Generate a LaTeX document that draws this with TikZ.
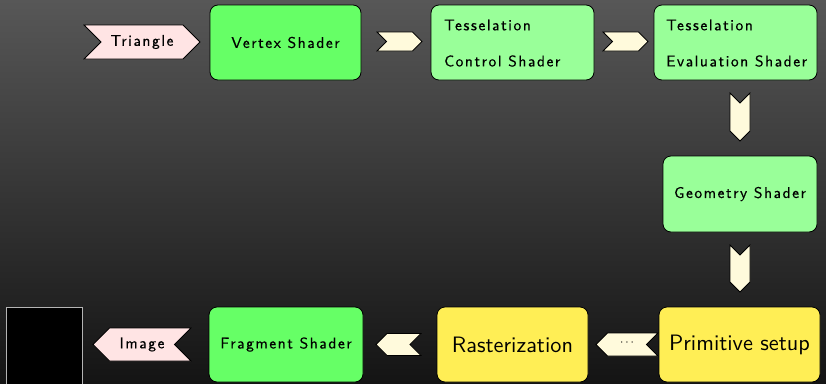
\documentclass[tikz,border=0pt]{standalone}
\usepackage{fontspec}
\newfontfamily\labfont[LetterSpace=10,FakeBold=0.5]{lmsans10-regular.otf}
\newfontfamily\bigfont{lmsans10-regular.otf}
\definecolor{bgtop}{HTML}{575757}
\definecolor{bgbot}{HTML}{141414}
\definecolor{vgreen}{HTML}{66FF66}
\definecolor{lgreen}{HTML}{99FF99}
\definecolor{yel}{HTML}{FFEE55}
\definecolor{cream}{HTML}{FFFADC}
\definecolor{pink}{HTML}{FFE4E4}
\definecolor{sqborder}{HTML}{B4B4B4}
\tikzset{
  box/.style={draw=black, line width=0.8pt, rounded corners=8pt, inner sep=0pt},
  lab/.style={font=\fontsize{15.5}{17}\labfont, text=black, inner sep=0pt},
  biglab/.style={font=\fontsize{22.3}{25}\bigfont, text=black, inner sep=0pt},
  chev/.style={draw=black, fill=cream, line width=0.8pt, line join=miter},
  pchev/.style={draw=black, fill=pink, line width=0.8pt, line join=miter},
}
\begin{document}
\begin{tikzpicture}[x=1pt,y=-1pt]
\useasboundingbox (0,0) rectangle (826,383);
\shade[top color=bgtop, bottom color=bgbot] (0,0) rectangle (826,383);

% input chevron
\draw[pchev] (84,25) -- (183,25) -- (200,42) -- (183,59) -- (84,59) -- (101,42) -- cycle;
\node[lab] (tri) at (142,42) {Triangle};

% top row boxes
\node[box, fill=vgreen, minimum width=151pt, minimum height=75pt, lab] (vs) at (285.5,42.5) {Vertex Shader};
\draw[chev] (377,32) -- (412.5,32) -- (422,41.5) -- (412.5,51) -- (377,51) -- (386.5,41.5) -- cycle;
\node[box, fill=lgreen, minimum width=163pt, minimum height=75pt] (tcs) at (512.5,42.5) {};
\node[lab, anchor=west] (tcs1) at (444,25) {Tesselation};
\node[lab, anchor=west] (tcs2) at (444,61) {Control Shader};
\draw[chev] (603,32) -- (638.5,32) -- (648,41.5) -- (638.5,51) -- (603,51) -- (612.5,41.5) -- cycle;
\node[box, fill=lgreen, minimum width=163pt, minimum height=75pt] (tes) at (735.5,42.5) {};
\node[lab, anchor=west] (tes1) at (666,25) {Tesselation};
\node[lab, anchor=west] (tes2) at (666,61) {Evaluation Shader};

% right column
\draw[chev] (730,93) -- (740,103) -- (750,93) -- (750,131) -- (740,141) -- (730,131) -- cycle;
\node[box, fill=lgreen, minimum width=154pt, minimum height=76pt, lab] (geo) at (740,194) {Geometry Shader};
\draw[chev] (730,245) -- (740,255) -- (750,245) -- (750,282) -- (740,292) -- (730,282) -- cycle;

% bottom row
\node[box, fill=yel, minimum width=161pt, minimum height=75pt, biglab] (prim) at (739.5,344.5) {Primitive setup};
\draw[chev] (596,344.5) -- (607.5,333) -- (658,333) -- (646.5,344.5) -- (658,356) -- (607.5,356) -- cycle;
\node[inner sep=0pt, font=\fontsize{12}{13}\selectfont] (dots) at (627,342.5) {$\cdots$};
\node[box, fill=yel, minimum width=151pt, minimum height=75pt, biglab] (rast) at (512.5,344.5) {Rasterization};
\draw[chev] (376,344.5) -- (387,333.5) -- (421,333.5) -- (410,344.5) -- (421,355.5) -- (387,355.5) -- cycle;
\node[box, fill=vgreen, minimum width=154pt, minimum height=75pt, lab] (frag) at (286,344.5) {Fragment Shader};
\draw[pchev] (93,344.5) -- (109.5,328) -- (191,328) -- (174.5,344.5) -- (191,361) -- (109.5,361) -- cycle;
\node[lab] (img) at (142,344.5) {Image};
\draw[draw=sqborder, fill=black, line width=1pt] (6.5,307.5) rectangle (82,384);
\end{tikzpicture}
\end{document}
